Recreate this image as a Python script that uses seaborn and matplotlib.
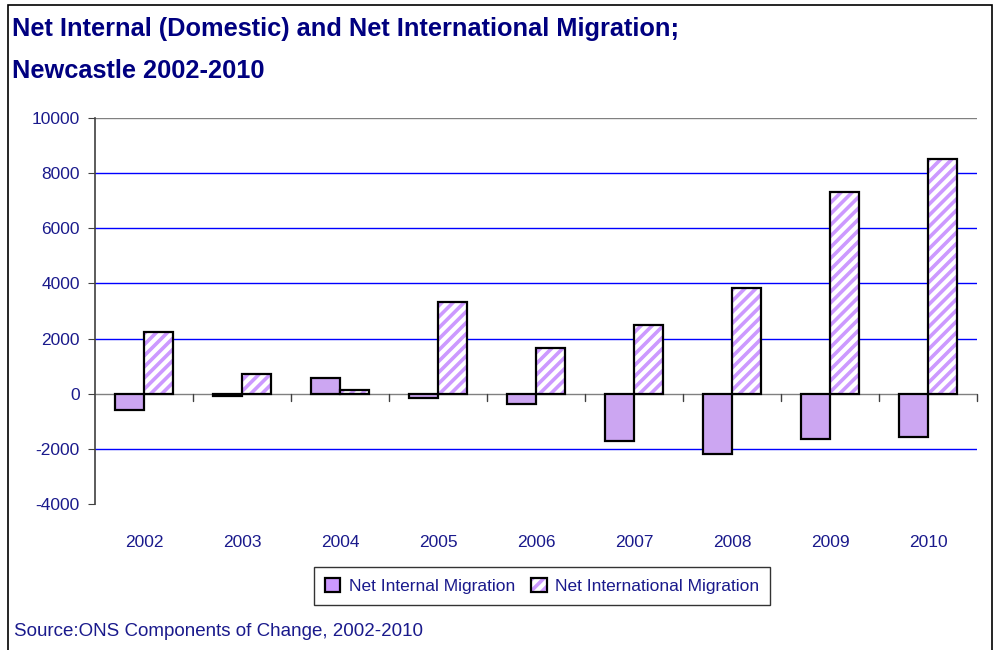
import pandas as pd
import matplotlib
matplotlib.use("Agg")
import matplotlib.pyplot as plt
import seaborn as sns
from matplotlib.patches import Rectangle, Patch
from matplotlib.legend_handler import HandlerTuple

# =====================
# DATA
# =====================
years = ['2002', '2003', '2004', '2005', '2006', '2007', '2008', '2009', '2010']
net_internal = [-580, -80, 570, -150, -370, -1700, -2200, -1630, -1560]
net_international = [2250, 700, 150, 3320, 1650, 2480, 3830, 7300, 8500]
series_names = ['Net Internal Migration', 'Net International Migration']

df = pd.DataFrame({
    'Year': years * 2,
    'Value': net_internal + net_international,
    'Series': [series_names[0]] * len(years) + [series_names[1]] * len(years),
})

NAVY = '#000080'
LILAC = '#CC99FF'

# =====================
# STYLE
# =====================
sns.set_style("white")
plt.rcParams['font.family'] = ['Liberation Sans', 'DejaVu Sans']
plt.rcParams['hatch.linewidth'] = 2.6
plt.rcParams['axes.unicode_minus'] = False

fig = plt.figure(figsize=(9.96, 6.5), dpi=100)
ax = fig.add_axes([95 / 996, 1 - 504 / 650, (977 - 95) / 996, (504 - 118) / 650])

sns.barplot(data=df, x='Year', y='Value', hue='Series', order=years,
            hue_order=series_names, palette=[LILAC, LILAC], width=0.6,
            gap=0, edgecolor='black', linewidth=1.6, ax=ax, legend=False,
            zorder=3)

# hatch the international bars (hatch in lilac, outline in black)
for bar in ax.containers[1]:
    bar.set_facecolor('white')
    bar.set_edgecolor(LILAC)
    bar.set_hatch('///')
    bar.set_linewidth(0)
    ax.add_patch(Rectangle(bar.get_xy(), bar.get_width(), bar.get_height(),
                           fill=False, edgecolor='black', linewidth=1.6, zorder=4))

# =====================
# AXES
# =====================
ax.set_ylim(-4000, 10000)
ax.set_xlim(-0.5, len(years) - 0.5)
ax.set_yticks(range(-4000, 10001, 2000))
ax.set_xlabel('')
ax.set_ylabel('')
for y in range(-2000, 10001, 2000):
    if y == 10000:
        ax.axhline(y, color='#808080', linewidth=1.0, zorder=1)
    elif y != 0:
        ax.axhline(y, color='#0000FF', linewidth=1.0, zorder=1)
ax.axhline(0, color='#808080', linewidth=1.0, zorder=2)

for s in ['top', 'right', 'bottom']:
    ax.spines[s].set_visible(False)
ax.spines['left'].set_color('#404040')
ax.spines['left'].set_linewidth(1.2)

ax.tick_params(axis='y', which='both', length=5, direction='out', left=True,
               color='#404040', labelsize=12.5, labelcolor='#1a1a8c', pad=6)
ax.tick_params(axis='x', length=0, labelsize=12.5, labelcolor='#1a1a8c', pad=22)

# category-boundary tick marks on the zero line
for k in range(1, len(years) + 1):
    ax.plot([k - 0.5, k - 0.5], [0, -250], color='#404040', linewidth=1.0,
            zorder=2, clip_on=False)

# =====================
# TEXT & LEGEND
# =====================
fig.text(12 / 996, 1 - 17 / 650, 'Net Internal (Domestic) and Net International Migration;',
         fontsize=18.3, fontweight='bold', color=NAVY, va='top')
fig.text(12 / 996, 1 - 59 / 650, 'Newcastle 2002-2010',
         fontsize=18.3, fontweight='bold', color=NAVY, va='top')
fig.text(14 / 996, 1 - 632 / 650, 'Source:ONS Components of Change, 2002-2010',
         fontsize=13.5, color='#1a1a8c', va='center')

h_int = Patch(facecolor=LILAC, edgecolor='black', linewidth=1.6)
h_intl = (Patch(facecolor='white', edgecolor=LILAC, hatch='///', linewidth=0),
          Patch(facecolor='none', edgecolor='black', linewidth=1.6))
leg = fig.legend([h_int, h_intl], series_names, loc='center', ncol=2,
                 handler_map={tuple: HandlerTuple(ndivide=1, pad=0)},
                 bbox_to_anchor=(542 / 996, 1 - 586 / 650), frameon=True,
                 fancybox=False, edgecolor='black', fontsize=12.5,
                 handlelength=0.9, handleheight=0.9, handletextpad=0.5,
                 columnspacing=0.9, borderpad=0.6)
leg.get_frame().set_linewidth(1.0)
for t in leg.get_texts():
    t.set_color('#1a1a8c')

# outer border of the chart area
fig.patches.append(Rectangle((8 / 996, -0.05), (992 - 8) / 996, 1.05 - 5 / 650,
                             transform=fig.transFigure, fill=False,
                             edgecolor='black', linewidth=1.2))

plt.savefig("out.png", dpi=100)
plt.close()
